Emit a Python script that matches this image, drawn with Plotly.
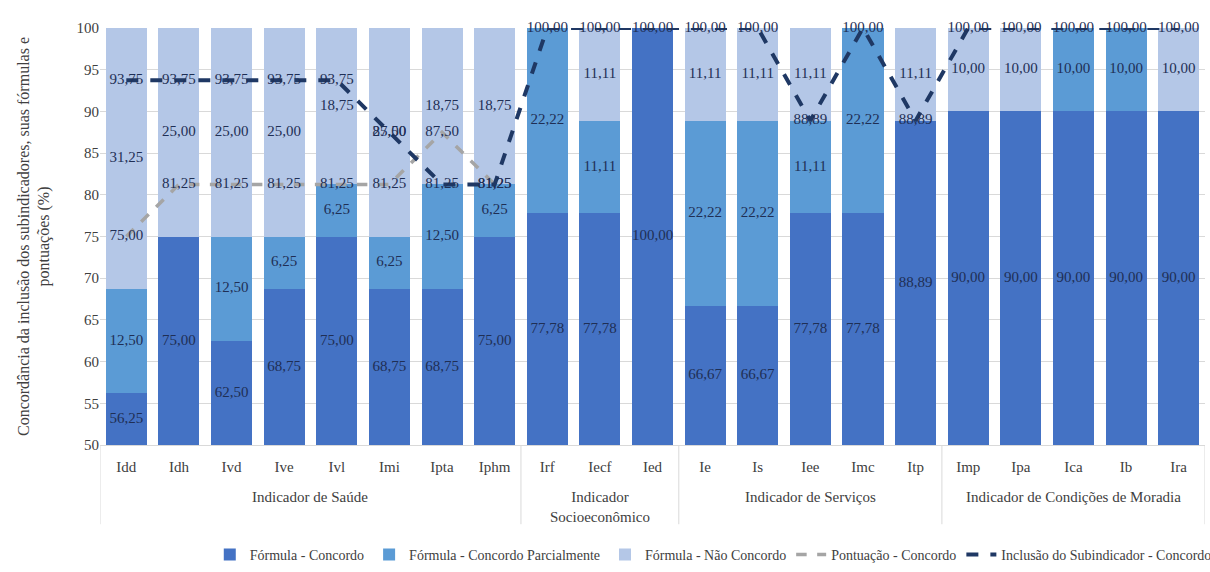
import plotly.graph_objects as go

group_names = ["Indicador de Saúde", "Indicador<br>Socioeconômico", "Indicador de Serviços", "Indicador de Condições de Moradia"]
group_sizes = [8, 3, 5, 5]
categories = ["Idd", "Idh", "Ivd", "Ive", "Ivl", "Imi", "Ipta", "Iphm",
              "Irf", "Iecf", "Ied",
              "Ie", "Is", "Iee", "Imc", "Itp",
              "Imp", "Ipa", "Ica", "Ib", "Ira"]

formula_concordo = [56.25, 75.00, 62.50, 68.75, 75.00, 68.75, 68.75, 75.00,
                    77.78, 77.78, 100.00,
                    66.67, 66.67, 77.78, 77.78, 88.89,
                    90.00, 90.00, 90.00, 90.00, 90.00]
formula_parcial = [12.50, 0, 12.50, 6.25, 6.25, 6.25, 12.50, 6.25,
                   22.22, 11.11, 0,
                   22.22, 22.22, 11.11, 22.22, 0,
                   0, 0, 10.00, 10.00, 0]
formula_nao = [31.25, 25.00, 25.00, 25.00, 18.75, 25.00, 18.75, 18.75,
               0, 11.11, 0,
               11.11, 11.11, 11.11, 0, 11.11,
               10.00, 10.00, 0, 0, 10.00]
pontuacao = [75.00, 81.25, 81.25, 81.25, 81.25, 81.25, 87.50, 81.25] + [None] * 13
inclusao = [93.75, 93.75, 93.75, 93.75, 93.75, 87.50, 81.25, 81.25,
            100.00, 100.00, 100.00,
            100.00, 100.00, 88.89, 100.00, 88.89,
            100.00, 100.00, 100.00, 100.00, 100.00]

YMIN, YMAX = 50, 100
FONT = "Liberation Serif"
LBL = "#1F2F55"
TXT = "#404040"
FS = 15

def fmt(v):
    return "" if (v is None or v == 0) else f"{v:.2f}".replace(".", ",")

x = categories
fig = go.Figure()

series = [("Fórmula - Concordo", formula_concordo, "#4472C4"),
          ("Fórmula - Concordo Parcialmente", formula_parcial, "#5B9BD5"),
          ("Fórmula - Não Concordo", formula_nao, "#B4C7E7")]

for name, vals, col in series:
    fig.add_trace(go.Bar(x=x, y=vals, name=name, marker=dict(color=col, line=dict(width=0)),
                         hoverinfo="skip"))

# segment labels centred on the visible part of each segment
bottoms = [0.0] * len(categories)
for name, vals, col in series:
    ys, ts = [], []
    for i, v in enumerate(vals):
        lo = max(bottoms[i], YMIN)
        hi = bottoms[i] + v
        if v and hi > YMIN:
            ys.append((lo + hi) / 2)
            ts.append(fmt(v))
        else:
            ys.append(None)
            ts.append("")
        bottoms[i] += v
    fig.add_trace(go.Scatter(x=x, y=ys, mode="text", text=ts, textposition="middle center",
                             textfont=dict(family=FONT, size=FS, color=LBL),
                             showlegend=False, hoverinfo="skip", cliponaxis=False))

fig.add_trace(go.Scatter(x=x, y=pontuacao, name="Pontuação - Concordo", mode="lines+text",
                         line=dict(color="#A5A5A5", width=3.5, dash="dash"),
                         text=[fmt(v) for v in pontuacao], textposition="middle center",
                         textfont=dict(family=FONT, size=FS, color=LBL), hoverinfo="skip",
                         cliponaxis=False))
fig.add_trace(go.Scatter(x=x, y=inclusao, name="Inclusão do Subindicador - Concordo", mode="lines+text",
                         line=dict(color="#1F3864", width=4, dash="dash"),
                         text=[fmt(v) for v in inclusao], textposition="middle center",
                         textfont=dict(family=FONT, size=FS, color=LBL), hoverinfo="skip",
                         cliponaxis=False))

# group labels and dividers
shapes, annotations = [], []
start = 0
for gname, gsize in zip(group_names, group_sizes):
    lo, hi = start - 0.5, start + gsize - 0.5
    shapes.append(dict(type="line", xref="x", yref="paper", x0=lo, x1=lo, y0=0, y1=-0.19,
                       line=dict(color="#D9D9D9", width=1)))
    annotations.append(dict(x=(lo + hi) / 2, xref="x", y=-0.1, yref="paper", yanchor="top",
                            text=gname, showarrow=False,
                            font=dict(family=FONT, size=FS, color=TXT)))
    start += gsize
shapes.append(dict(type="line", xref="x", yref="paper", x0=start - 0.5, x1=start - 0.5, y0=0, y1=-0.19,
                   line=dict(color="#D9D9D9", width=1)))

fig.update_layout(
    width=1210, height=572,
    barmode="stack", bargap=0.22,
    paper_bgcolor="white", plot_bgcolor="white",
    margin=dict(l=100, r=5, t=28, b=127, autoexpand=False),
    font=dict(family=FONT, size=FS, color=TXT),
    legend=dict(orientation="h", x=0.555, xanchor="center", y=-0.225, yanchor="top",
                font=dict(family=FONT, size=14, color=TXT), traceorder="normal",
                itemwidth=30, tracegroupgap=0),
    showlegend=True,
    shapes=shapes, annotations=annotations,
)
fig.update_yaxes(range=[YMIN, YMAX], dtick=5, showgrid=True, gridcolor="#D9D9D9",
                 tickfont=dict(family=FONT, size=FS, color=TXT), zeroline=False,
                 automargin=False, ticks="", ticklen=0,
                 title=dict(text="Concordância da inclusão dos subindicadores, suas fórmulas e<br>pontuações (%)",
                            font=dict(family=FONT, size=16, color=TXT), standoff=22))
fig.update_xaxes(type="category", range=[-0.5, len(categories) - 0.5], showline=True,
                 linecolor="#D9D9D9", automargin=False,
                 tickfont=dict(family=FONT, size=FS, color=TXT), ticklen=0, ticklabelstandoff=8)

fig.write_html("out.html")
